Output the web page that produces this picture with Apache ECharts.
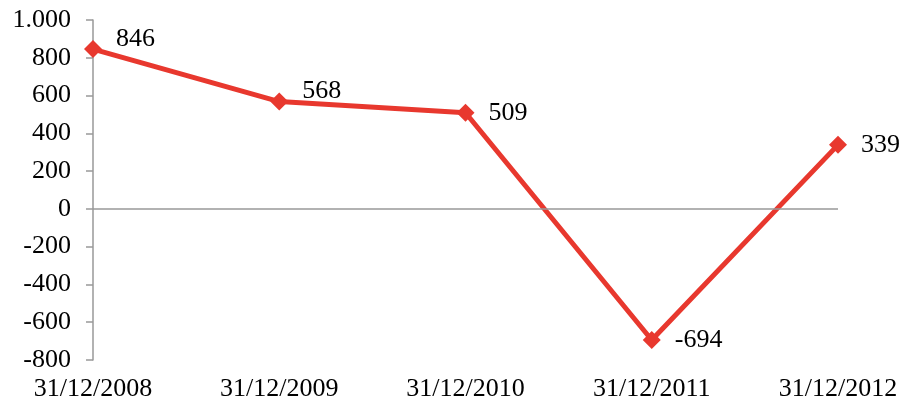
<!DOCTYPE html>
<html>
<head>
<meta charset="utf-8">
<script src="https://cdn.jsdelivr.net/npm/echarts@6/dist/echarts.min.js"></script>
<style>
  html, body { margin: 0; padding: 0; background: #fff; }
  #chart { width: 906px; height: 404px; }
</style>
</head>
<body>
<div id="chart"></div>
<script>
var categories = ['31/12/2008', '31/12/2009', '31/12/2010', '31/12/2011', '31/12/2012'];
var values = [846, 568, 509, -694, 339];

var font = '"Liberation Serif", "Times New Roman", serif';
var myChart = echarts.init(document.getElementById('chart'));

// first two labels sit a bit above the line, like the original
var seriesData = values.map(function(v, i) {
  return i < 2 ? { value: v, label: { offset: [0, -10] } } : v;
});

var option = {
  animation: false,
  grid: { left: 93, right: 68, top: 20, bottom: 44 },
  xAxis: {
    type: 'category',
    data: categories,
    boundaryGap: false,
    axisLine: { show: false, onZero: false },
    axisTick: { show: false },
    axisLabel: { color: '#000', fontFamily: font, fontSize: 26, margin: 16 },
    splitLine: { show: false }
  },
  yAxis: {
    type: 'value',
    min: -800,
    max: 1000,
    interval: 200,
    axisLine: { show: true, lineStyle: { color: '#999', width: 1.5 } },
    axisTick: { show: true, length: 7, lineStyle: { color: '#999', width: 1.5 } },
    axisLabel: {
      color: '#000', fontFamily: font, fontSize: 26, margin: 22,
      formatter: function(v) {
        return Math.abs(v) >= 1000 ? String(v).replace(/(\d)(\d{3})$/, '$1.$2') : String(v);
      }
    },
    splitLine: { show: false }
  },
  series: [{
    type: 'line',
    data: seriesData,
    symbol: 'diamond',
    symbolSize: 18,
    lineStyle: { color: '#e8382e', width: 5 },
    itemStyle: { color: '#e8382e' },
    label: {
      show: true,
      position: 'right',
      distance: 14,
      color: '#000',
      fontFamily: font,
      fontSize: 26
    },
    markLine: {
      silent: true,
      symbol: 'none',
      label: { show: false },
      lineStyle: { color: '#999', width: 1.5, type: 'solid' },
      data: [{ yAxis: 0 }]
    },
    z: 3
  }]
};
myChart.setOption(option);
</script>
</body>
</html>
